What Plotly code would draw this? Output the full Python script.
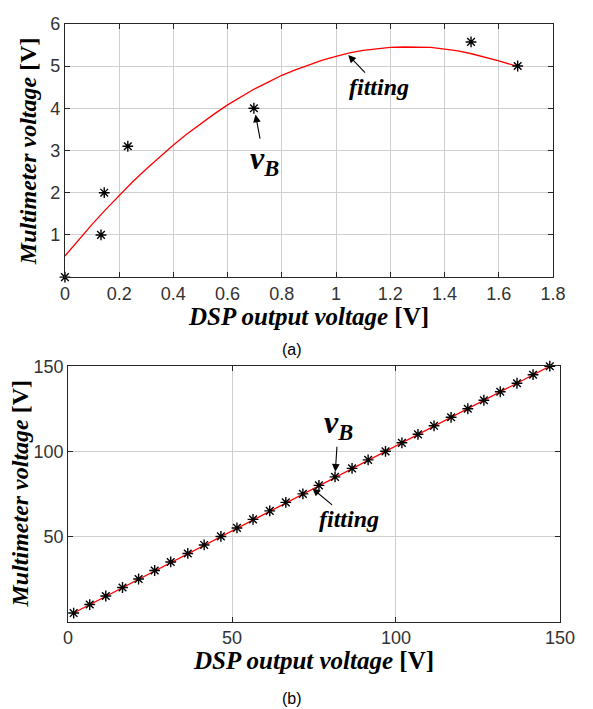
import plotly.graph_objects as go

# ---- (a) low-voltage calibration ----
a_dsp = [0.0, 0.133, 0.145, 0.232, 0.697, 1.498, 1.670]
a_meter = [0.0, 1.0, 2.0, 3.1, 4.0, 5.57, 5.0]
# fitted curve, sampled every 0.05 V
a_fit_x = [0.0, 0.05, 0.1, 0.15, 0.2, 0.25, 0.3, 0.35, 0.4, 0.45, 0.5,
           0.55, 0.6, 0.65, 0.7, 0.75, 0.8, 0.85, 0.9, 0.95, 1.0,
           1.05, 1.1, 1.15, 1.2, 1.25, 1.3, 1.35, 1.4, 1.45, 1.5,
           1.55, 1.6, 1.67]
a_fit_y = [0.50, 0.88, 1.25, 1.60, 1.94, 2.26, 2.56, 2.85, 3.13, 3.39, 3.63,
           3.86, 4.08, 4.27, 4.46, 4.62, 4.78, 4.91, 5.03, 5.14, 5.23,
           5.31, 5.37, 5.41, 5.44, 5.45, 5.45, 5.44, 5.40, 5.36, 5.29,
           5.21, 5.12, 4.99]

# ---- (b) full-range calibration ----
b_dsp = [1.7, 6.6, 11.5, 16.6, 21.5, 26.4, 31.3, 36.5, 41.5, 46.6,
         51.5, 56.4, 61.5, 66.4, 71.6, 76.5, 81.4, 86.6, 91.5, 96.8,
         101.8, 106.7, 111.6, 116.8, 121.9, 126.8, 131.8, 136.9, 141.8, 146.9]
b_meter = [5, 10, 15, 20, 25, 30, 35, 40, 45, 50,
           55, 60, 65, 70, 75, 80, 85, 90, 95, 100,
           105, 110, 115, 120, 125, 130, 135, 140, 145, 150]
b_fit_x = [1.7, 146.9]
b_fit_y = [5, 150]

W, H = 593, 709
AX = "#262626"
GRID = "#cfcfcf"
TICKFONT = dict(family="Liberation Sans, Arial", size=18, color="#333333")
SERIF = "Liberation Serif, Times New Roman"

X_TITLE = "<b><i>DSP output voltage</i> [V]</b>"
Y_TITLE = "<b><i>Multimeter voltage</i> [V]</b>"

star = dict(symbol="asterisk-open", size=9, color="black",
            line=dict(color="black", width=1.4))

fig = go.Figure()

fig.add_trace(go.Scatter(x=a_fit_x, y=a_fit_y, mode="lines",
                         line=dict(color="#ff0000", width=1.3),
                         xaxis="x", yaxis="y", showlegend=False))
fig.add_trace(go.Scatter(x=a_dsp, y=a_meter, mode="markers", marker=star,
                         xaxis="x", yaxis="y", showlegend=False, cliponaxis=False))

fig.add_trace(go.Scatter(x=b_fit_x, y=b_fit_y, mode="lines",
                         line=dict(color="#ff0000", width=1.3),
                         xaxis="x2", yaxis="y2", showlegend=False))
fig.add_trace(go.Scatter(x=b_dsp, y=b_meter, mode="markers", marker=star,
                         xaxis="x2", yaxis="y2", showlegend=False, cliponaxis=False))

axis_common = dict(showline=True, linecolor=AX, linewidth=1, mirror="ticks",
                   ticks="inside", ticklen=5, tickcolor=AX,
                   showgrid=True, gridcolor=GRID, gridwidth=1,
                   zeroline=False, tickfont=TICKFONT)

fig.update_layout(
    width=W, height=H,
    margin=dict(l=0, r=0, t=0, b=0),
    paper_bgcolor="white", plot_bgcolor="white",
    xaxis=dict(domain=[0.1046, 0.9562], range=[0, 1.8],
               tickvals=[0, 0.2, 0.4, 0.6, 0.8, 1, 1.2, 1.4, 1.6, 1.8],
               ticktext=["0", "0.2", "0.4", "0.6", "0.8", "1", "1.2", "1.4", "1.6", "1.8"],
               anchor="y", **axis_common),
    yaxis=dict(domain=[0.6178, 0.9803], range=[0, 6],
               tickvals=[1, 2, 3, 4, 5, 6], anchor="x", **axis_common),
    xaxis2=dict(domain=[0.1101, 0.9685], range=[0, 150],
                tickvals=[0, 50, 100, 150], anchor="y2", **axis_common),
    yaxis2=dict(domain=[0.1251, 0.4904], range=[0, 150],
                tickvals=[50, 100, 150], anchor="x2", **axis_common),
)


def px(xp, yp):
    """pixel position -> paper coordinates"""
    return xp / W, 1 - yp / H


ann_font_v = dict(family=SERIF, size=32, color="black")
ann_font_f = dict(family=SERIF, size=24, color="black")
VB = "<b><i>v<sub>B</sub></i></b>"
FIT = "<b><i>fitting</i></b>"

arrow = dict(showarrow=True, arrowhead=2, arrowsize=1.4, arrowwidth=1.1,
             arrowcolor="black", axref="pixel", ayref="pixel")

annotations = []

# axis titles
for (cx, cy, txt, ang) in [(314, 311, X_TITLE, 0), (24, 143, Y_TITLE, -90),
                           (319, 660, X_TITLE, 0), (16, 490, Y_TITLE, -90)]:
    xp, yp = px(cx, cy)
    annotations.append(dict(x=xp, y=yp, xref="paper", yref="paper", text=txt,
                            xanchor="center", yanchor="middle",
                            textangle=ang, showarrow=False,
                            font=dict(family=SERIF, size=25 if ang == 0 else 24,
                                      color="black")))

# labels with arrows: the label sits at a pixel offset (ax, ay) from the tip
annotations += [
    dict(x=0.703, y=3.85, xref="x", yref="y", text=VB, font=ann_font_v,
         ax=8.7, ay=46, **arrow),
    dict(x=1.045, y=5.26, xref="x", yref="y", text=FIT, font=ann_font_f,
         ax=30.7, ay=32, **arrow),
    dict(x=81.5, y=88.0, xref="x2", yref="y2", text=VB, font=ann_font_v,
         ax=3, ay=-47, **arrow),
    dict(x=74.5, y=78.2, xref="x2", yref="y2", text=FIT, font=ann_font_f,
         ax=37, ay=31, **arrow),
]

# panel labels
for (cx, cy, txt) in [(297, 344, "(a)"), (297, 698, "(b)")]:
    xp, yp = px(cx, cy)
    annotations.append(dict(x=xp, y=yp, xref="paper", yref="paper", text=txt,
                            xanchor="center", yanchor="middle",
                            showarrow=False,
                            font=dict(family="Liberation Sans, Arial", size=16,
                                      color="black")))

fig.update_layout(annotations=annotations)

fig.write_html("out.html")
